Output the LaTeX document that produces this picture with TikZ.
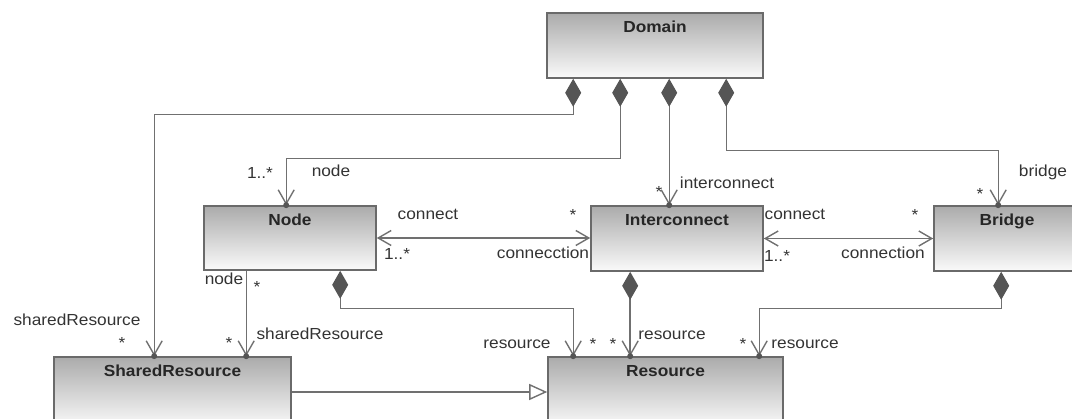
\documentclass[tikz,border=0pt]{standalone}
\usepackage{fontspec}
\setmainfont{Liberation Sans}[FakeStretch=1.08]
\usetikzlibrary{arrows.meta,decorations.markings}
\definecolor{linec}{HTML}{707070}
\definecolor{bordc}{HTML}{6A6A6A}
\definecolor{diac}{HTML}{555555}
\definecolor{topc}{HTML}{ABABAB}
\definecolor{botc}{HTML}{FAFAFA}
\begin{document}
\begin{tikzpicture}[x=1pt,y=-1pt,
  font=\fontsize{16pt}{18pt}\selectfont,
  classname/.style={anchor=base, yshift=-20pt, text=black!85,
    font=\fontsize{16pt}{18pt}\selectfont\bfseries},
  umlclass/.style={draw=bordc, line width=1.6pt, top color=topc,
    bottom color=botc, inner sep=0pt, label={[classname]north:#1}},
  lbl/.style={inner sep=0pt, anchor=mid, text=black!80},
  vtip/.tip={Straight Barb[length=14pt,width=16pt,line width=1.4pt]},
  navdot/.style={postaction={decorate}, decoration={markings,
    mark=at position 0.9999 with {\fill[diac] circle[radius=3pt];}}},
  comp/.style={draw=linec, line width=1.4pt,
    {Diamond[length=28pt,width=16pt,color=diac]}-vtip, navdot},
  nav/.style={draw=linec, line width=1.4pt, -vtip, navdot},
  assoc/.style={draw=linec, line width=1.4pt,
    {Straight Barb[length=13pt,width=15pt,line width=1.4pt]}-{Straight Barb[length=13pt,width=15pt,line width=1.4pt]}},
  gen/.style={draw=linec, line width=1.4pt,
    -{Triangle[length=18pt,width=16pt,fill=white,line width=1.4pt]}}
]
\useasboundingbox (0,0) rectangle (1072,419);
\clip (0,0) rectangle (1072,419);

% classes
\node[umlclass=Domain, minimum width=216pt, minimum height=65pt] (dom) at (655,45.5) {};
\node[umlclass=Node, minimum width=172pt, minimum height=64pt] (nd) at (290,238) {};
\node[umlclass=Interconnect, minimum width=172pt, minimum height=65pt] (ic) at (677,238.5) {};
\node[umlclass=Bridge, minimum width=146pt, minimum height=65pt] (br) at (1007,238.5) {};
\node[umlclass=SharedResource, minimum width=237pt, minimum height=70pt] (sr) at (172.5,392) {};
\node[umlclass=Resource, minimum width=235pt, minimum height=70pt] (res) at (665.5,392) {};

% compositions owned by Domain
\draw[comp] ([xshift=27pt]dom.south west) -- ++(0,36) -| ([xshift=101pt]sr.north west);
\draw[comp] ([xshift=74pt]dom.south west) -- ++(0,80) -| ([xshift=83pt]nd.north west);
\draw[comp] ([xshift=123pt]dom.south west) -- ([xshift=79pt]ic.north west);
\draw[comp] ([xshift=180pt]dom.south west) -- ++(0,72) -| ([xshift=65pt]br.north west);

% connections
\draw[assoc] (nd.east) -- (nd.east -| ic.west);
\draw[assoc] (ic.east) -- (ic.east -| br.west);

% shared resources of a node
\draw[nav] ([xshift=43pt]nd.south west) -- ([xshift=193pt]sr.north west);

% resources
\draw[comp] ([xshift=137pt]nd.south west) -- ++(0,38) -| ([xshift=26pt]res.north west);
\draw[comp, line width=2pt] ([xshift=40pt]ic.south west) -- ([xshift=83pt]res.north west);
\draw[comp] ([xshift=68pt]br.south west) -- ++(0,37) -| ([xshift=212pt]res.north west);

% generalization
\draw[gen] (sr.east) -- (sr.east -| res.west);

% role names and multiplicities
\node[lbl] (l1) at (260,176) {1..*};
\node[lbl] (l2) at (331,174) {node};
\node[lbl] (l3) at (659,195) {*};
\node[lbl] (l4) at (727,186) {interconnect};
\node[lbl] (l5) at (980,197) {*};
\node[lbl] (l6) at (1043,174) {bridge};
\node[lbl] (l7) at (428,217) {connect};
\node[lbl] (l8) at (397,257) {1..*};
\node[lbl] (l9) at (573,218) {*};
\node[lbl] (l10) at (543,256) {connecction};
\node[lbl] (l11) at (795,217) {connect};
\node[lbl] (l12) at (777,259) {1..*};
\node[lbl] (l13) at (915,218) {*};
\node[lbl] (l14) at (883,256) {connection};
\node[lbl] (l15) at (224,282) {node};
\node[lbl] (l16) at (257,290) {*};
\node[lbl] (l17) at (77,323) {sharedResource};
\node[lbl] (l18) at (122,346) {*};
\node[lbl] (l19) at (229,346) {*};
\node[lbl] (l20) at (320,337) {sharedResource};
\node[lbl] (l21) at (517,346) {resource};
\node[lbl] (l22) at (593,347) {*};
\node[lbl] (l23) at (613,347) {*};
\node[lbl] (l24) at (672,337) {resource};
\node[lbl] (l25) at (743,347) {*};
\node[lbl] (l26) at (805,346) {resource};
\end{tikzpicture}
\end{document}
